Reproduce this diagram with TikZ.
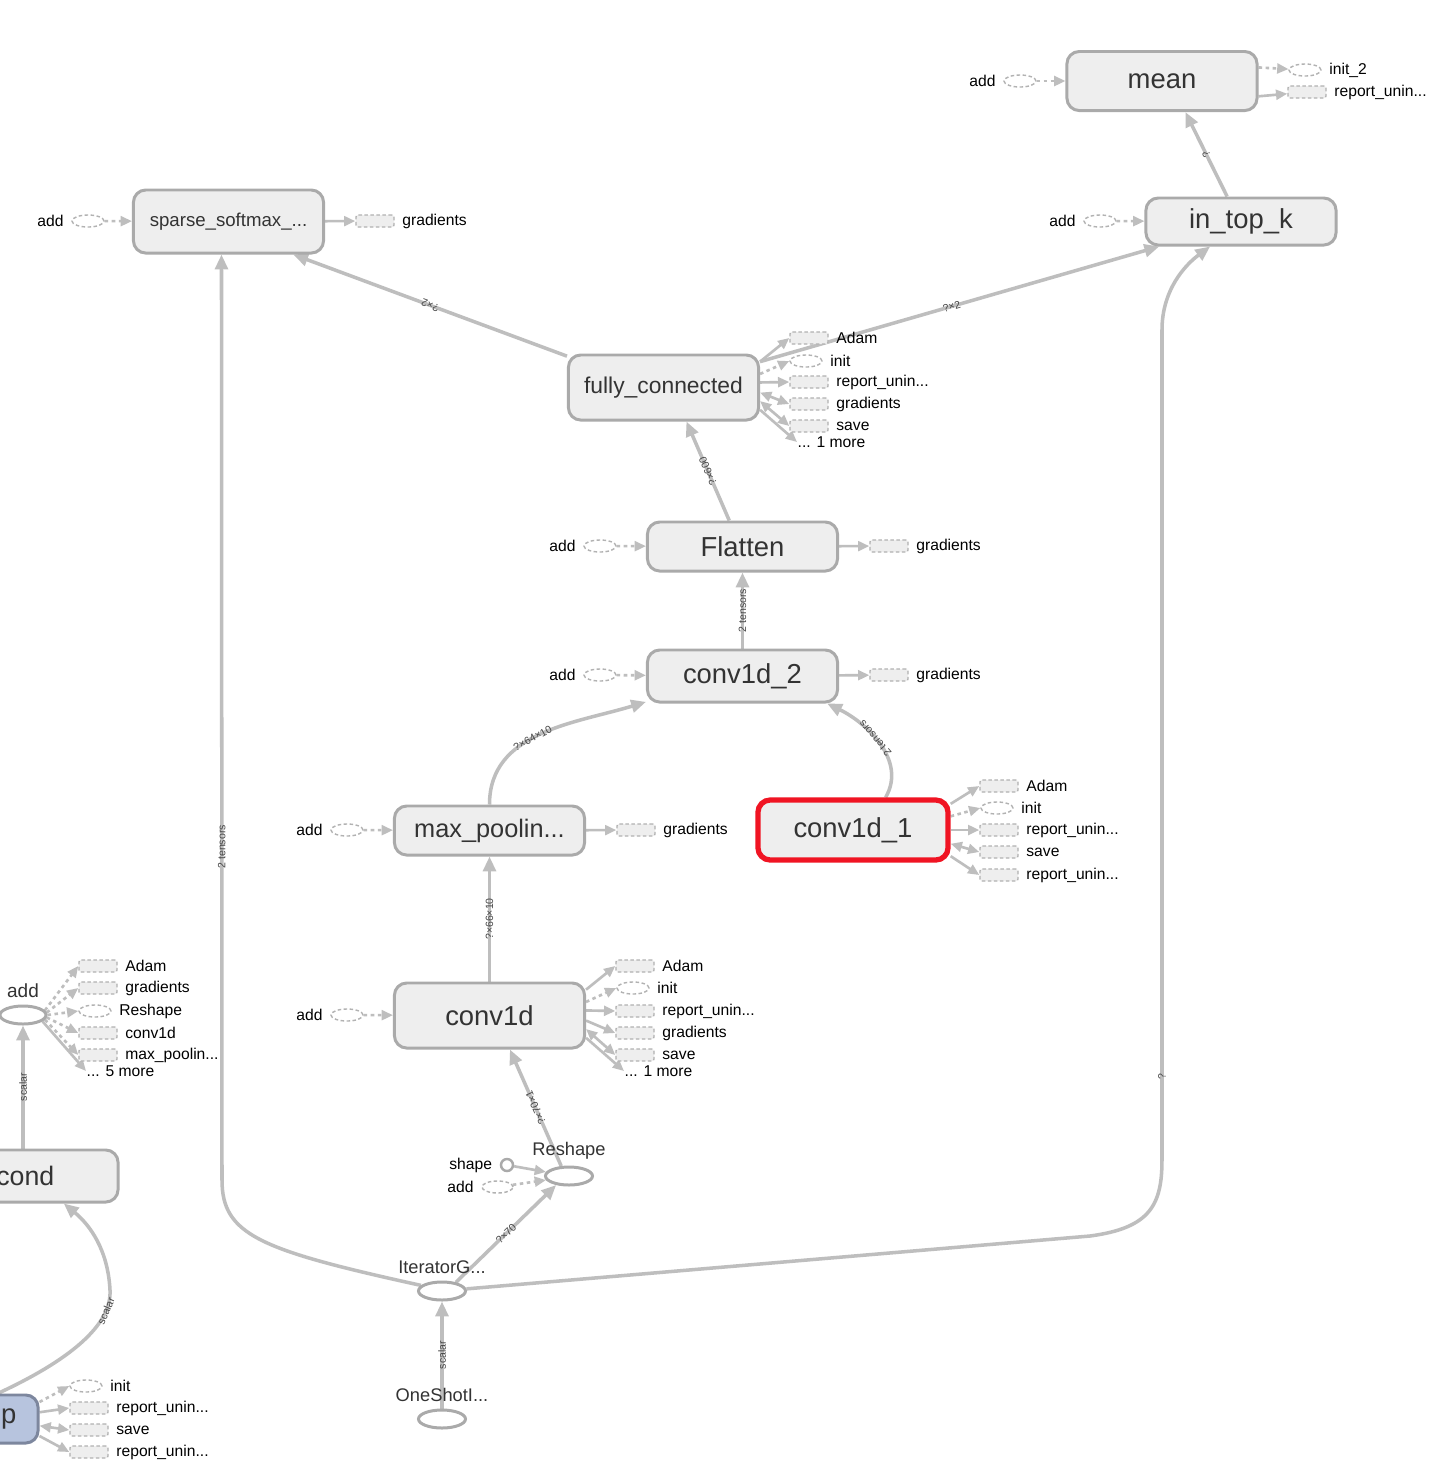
\documentclass[tikz,border=0pt]{standalone}
\usepackage{fontspec}
\setmainfont{Liberation Sans}
\usepackage{xcolor}
\definecolor{opfill}{RGB}{238,238,238}
\definecolor{opline}{RGB}{170,170,170}
\definecolor{optext}{RGB}{51,51,51}
\definecolor{edgegray}{RGB}{190,190,190}
\definecolor{auxline}{RGB}{178,178,178}
\definecolor{hilite}{RGB}{240,20,35}
\definecolor{seriesfill}{RGB}{183,196,222}
\definecolor{seriesline}{RGB}{125,135,158}
\usetikzlibrary{arrows.meta,positioning,shapes.geometric}
\pgfdeclarelayer{edges}
\pgfsetlayers{edges,main}

\begin{document}
\begin{tikzpicture}[
  x=0.01cm, y=-0.01cm,
  op/.style={draw=opline, fill=opfill, text=optext, line width=0.85pt,
             rounded corners=3.5pt, minimum width=1.9cm, inner sep=0pt,
             font=\fontsize{7.8}{9}\selectfont},
  opell/.style={ellipse, draw=opline, fill=white, line width=0.85pt,
                minimum width=0.47cm, minimum height=0.18cm, inner sep=0pt},
  oplbl/.style={font=\fontsize{5.2}{6}\selectfont, text=optext, inner sep=0pt},
  auxbox/.style={draw=auxline, dash pattern=on 1pt off 0.7pt, fill=opfill,
                 line width=0.4pt, rounded corners=0.6pt, inner sep=0pt,
                 minimum width=0.38cm, minimum height=0.12cm},
  auxell/.style={ellipse, draw=auxline, dash pattern=on 1pt off 0.7pt, fill=white,
                 line width=0.4pt, inner sep=0pt,
                 minimum width=0.32cm, minimum height=0.12cm},
  lbl/.style={font=\fontsize{4.45}{5}\selectfont, text=black, inner sep=0pt},
  edge/.style={draw=edgegray, line width=1pt,
               >={Triangle[length=4.2pt,width=3.6pt]}, ->},
  fan/.style={draw=edgegray, line width=0.75pt,
              >={Triangle[length=3.2pt,width=2.8pt]}, ->},
  both/.style={fan, <->},
  ctl/.style={fan, dash pattern=on 1pt off 1pt},
  elbl/.style={font=\fontsize{3}{3.4}\selectfont, text=black!72, sloped,
               allow upside down, inner sep=0.3pt}
]
\useasboundingbox (0,0) rectangle (1438,1468);
\clip (0,0) rectangle (1438,1468);

% main ops
\node[op, minimum height=0.59cm] (mean) at (1162,81) {mean};
\node[op, minimum height=0.47cm] (intopk) at (1241,221.5) {in\_top\_k};
\node[op, minimum height=0.63cm, font=\fontsize{5.3}{6}\selectfont] (sparse) at (228.5,221.5) {sparse\_softmax\_...};
\node[op, minimum height=0.65cm, font=\fontsize{6.5}{8}\selectfont] (fc) at (663.5,387.5) {fully\_connected};
\node[op, minimum height=0.49cm] (flat) at (742.5,546.5) {Flatten};
\node[op, minimum height=0.52cm] (convb) at (742.5,676) {conv1d\_2};
\node[op, minimum height=0.49cm, font=\fontsize{7.2}{8}\selectfont] (pool) at (489.5,830.5) {max\_poolin...};
\node[op, draw=hilite, line width=1.5pt, minimum height=0.6cm] (conva) at (853,830) {conv1d\_1};
\node[op, minimum height=0.65cm] (conv) at (489.5,1015.5) {conv1d};
\node[op, minimum height=0.52cm] (cond) at (23,1176) {};
\node[font=\fontsize{7.6}{9}\selectfont, text=optext, inner sep=0pt, anchor=east] (condtxt) at (55,1176) {cond};
\node[op, fill=seriesfill, draw=seriesline, minimum height=0.48cm] (pbox) at (-57,1419) {};
\node[font=\fontsize{7.8}{9}\selectfont, text=optext, inner sep=0pt, anchor=east] (ptxt) at (17,1419) {p};

% small ops
\node[opell, minimum width=0.46cm] (addop) at (23,1015) {};
\node[oplbl, font=\fontsize{5.4}{6}\selectfont, above=0.06cm of addop] (addtxt) {add};
\node[opell] (reshape) at (569,1176) {};
\node[oplbl, above=0.06cm of reshape] (reshapetxt) {Reshape};
\node[opell] (iter) at (442,1291) {};
\node[oplbl, above=0.06cm of iter] (itertxt) {IteratorG...};
\node[opell] (oneshot) at (442,1419) {};
\node[oplbl, above=0.06cm of oneshot] (oneshottxt) {OneShotI...};
\node[circle, draw=opline, fill=white, line width=0.7pt, minimum size=0.12cm, inner sep=0pt] (shape) at (507,1165) {};
\node[lbl, left=0.07cm of shape] (shapetxt) {shape};
\node[auxell, minimum width=0.31cm] (rsadd) at (497.5,1187) {};
\node[lbl, left=0.07cm of rsadd] (rsaddtxt) {add};

% side inputs and outputs
\node[auxell] (meanadd) at (1020,81) {};
\node[lbl, left=0.07cm of meanadd] (meanaddtxt) {add};
\node[auxell] (meaninit) at (1305,70) {};
\node[lbl, right=0.07cm of meaninit] (meaninittxt) {init\_2};
\node[auxbox] (meanrep) at (1307,92) {};
\node[lbl, right=0.07cm of meanrep] (meanreptxt) {report\_unin...};
\node[auxell] (topkadd) at (1100,221) {};
\node[lbl, left=0.07cm of topkadd] (topkaddtxt) {add};
\node[auxell] (sparseadd) at (88,221) {};
\node[lbl, left=0.07cm of sparseadd] (sparseaddtxt) {add};
\node[auxbox] (sparsegrad) at (375,221) {};
\node[lbl, right=0.07cm of sparsegrad] (sparsegradtxt) {gradients};
\node[auxell] (flatadd) at (600,546) {};
\node[lbl, left=0.07cm of flatadd] (flataddtxt) {add};
\node[auxbox] (flatgrad) at (889,546) {};
\node[lbl, right=0.07cm of flatgrad] (flatgradtxt) {gradients};
\node[auxell] (convbadd) at (600,675) {};
\node[lbl, left=0.07cm of convbadd] (convbaddtxt) {add};
\node[auxbox] (convbgrad) at (889,675) {};
\node[lbl, right=0.07cm of convbgrad] (convbgradtxt) {gradients};
\node[auxell] (pooladd) at (347,830) {};
\node[lbl, left=0.07cm of pooladd] (pooladdtxt) {add};
\node[auxbox] (poolgrad) at (636,830) {};
\node[lbl, right=0.07cm of poolgrad] (poolgradtxt) {gradients};
\node[auxell] (convadd) at (347,1015) {};
\node[lbl, left=0.07cm of convadd] (convaddtxt) {add};

% fully_connected fan
\node[auxbox] (fcadam) at (809,338) {};
\node[lbl, right=0.07cm of fcadam] (fcadamtxt) {Adam};
\node[auxell] (fcinit) at (806,361) {};
\node[lbl, right=0.07cm of fcinit] (fcinittxt) {init};
\node[auxbox] (fcrep) at (809,382) {};
\node[lbl, right=0.07cm of fcrep] (fcreptxt) {report\_unin...};
\node[auxbox] (fcgrad) at (809,404) {};
\node[lbl, right=0.07cm of fcgrad] (fcgradtxt) {gradients};
\node[auxbox] (fcsave) at (809,426) {};
\node[lbl, right=0.07cm of fcsave] (fcsavetxt) {save};
\node[lbl, anchor=west] (fcmore) at (797,442) {... 1 more};

% conv1d_1 fan
\node[auxbox] (convaadam) at (999,786) {};
\node[lbl, right=0.07cm of convaadam] (convaadamtxt) {Adam};
\node[auxell] (convainit) at (997,808) {};
\node[lbl, right=0.07cm of convainit] (convainittxt) {init};
\node[auxbox] (convarep) at (999,830) {};
\node[lbl, right=0.07cm of convarep] (convareptxt) {report\_unin...};
\node[auxbox] (convasave) at (999,852) {};
\node[lbl, right=0.07cm of convasave] (convasavetxt) {save};
\node[auxbox] (convarepb) at (999,875) {};
\node[lbl, right=0.07cm of convarepb] (convarepbtxt) {report\_unin...};

% conv1d fan
\node[auxbox] (convadam) at (635,966) {};
\node[lbl, right=0.07cm of convadam] (convadamtxt) {Adam};
\node[auxell] (convinit) at (633,988) {};
\node[lbl, right=0.07cm of convinit] (convinittxt) {init};
\node[auxbox] (convrep) at (635,1011) {};
\node[lbl, right=0.07cm of convrep] (convreptxt) {report\_unin...};
\node[auxbox] (convgrad) at (635,1033) {};
\node[lbl, right=0.07cm of convgrad] (convgradtxt) {gradients};
\node[auxbox] (convsave) at (635,1055) {};
\node[lbl, right=0.07cm of convsave] (convsavetxt) {save};
\node[lbl, anchor=west] (convmore) at (624,1071) {... 1 more};

% add fan
\node[auxbox] (addadam) at (98,966) {};
\node[lbl, right=0.07cm of addadam] (addadamtxt) {Adam};
\node[auxbox] (addgrad) at (98,988) {};
\node[lbl, right=0.07cm of addgrad] (addgradtxt) {gradients};
\node[auxell] (addreshape) at (95,1011) {};
\node[lbl, right=0.07cm of addreshape] (addreshapetxt) {Reshape};
\node[auxbox] (addconv) at (98,1033) {};
\node[lbl, right=0.07cm of addconv] (addconvtxt) {conv1d};
\node[auxbox] (addpool) at (98,1055) {};
\node[lbl, right=0.07cm of addpool] (addpooltxt) {max\_poolin...};
\node[lbl, anchor=west] (addmore) at (86,1071) {... 5 more};

% p fan
\node[auxell] (pinit) at (86,1386) {};
\node[lbl, right=0.07cm of pinit] (pinittxt) {init};
\node[auxbox] (prep) at (89,1408) {};
\node[lbl, right=0.07cm of prep] (preptxt) {report\_unin...};
\node[auxbox] (psave) at (89,1430) {};
\node[lbl, right=0.07cm of psave] (psavetxt) {save};
\node[auxbox] (prepb) at (89,1452) {};
\node[lbl, right=0.07cm of prepb] (prepbtxt) {report\_unin...};

\begin{pgfonlayer}{edges}
\fill[white] (0,0) rectangle (1438,1468);
% data edges
\draw[edge] (intopk.119) -- node[elbl] {?} (mean.-53);
\draw[edge] (fc.162) -- node[elbl] {?×2} (sparse.-27);
\draw[edge] (fc.15) -- node[elbl, pos=0.48] {?×2} (intopk.197);
\draw[edge] (flat.117) -- node[elbl] {?×600} (fc.-56);
\draw[edge] (convb) -- node[elbl] {2 tensors} (flat);
\draw[edge] (pool.north) to[out=90, in=197] node[elbl, pos=0.45] {?×64×10} (convb.195);
\draw[edge] (conva.45) to[out=60, in=-26] node[elbl, pos=0.55] {2 tensors} (convb.-18);
\draw[edge] (conv) -- node[elbl] {?×66×10} (pool);
\draw[edge] (reshape.128) -- node[elbl] {?×70×1} (conv.-59);
\draw[edge] (iter.32) -- node[elbl] {?×70} (reshape.215);
\draw[edge] (oneshot) -- node[elbl] {scalar} (iter);
\draw[fan] (shape) -- (reshape.170);
\draw[ctl] (rsadd) -- (reshape.190);
\draw[edge] (iter.165) .. controls (260,1250) and (222,1235) .. (222,1180)
  -- node[elbl, pos=0.36] {2 tensors} (sparse.-102);
\draw[edge] (iter.5) -- (1090,1236) .. controls (1150,1228) and (1162,1205) .. (1162,1160)
  -- node[elbl, pos=0.1] {?} (1162,330) .. controls (1162,290) and (1185,265) .. (intopk.-141);
\draw[edge] (cond) -- node[elbl] {scalar} (addop);
\draw[edge] (pbox.25) .. controls (70,1360) and (112,1325) .. (110,1290) node[elbl, pos=0.8] {scalar}
  .. controls (108,1250) and (90,1225) .. (cond.-34);

% side edges
\draw[ctl] (meanadd) -- (mean);
\draw[ctl] (mean.8) -- (meaninit);
\draw[fan] (mean.-9) -- (meanrep);
\draw[ctl] (topkadd) -- (intopk);
\draw[ctl] (sparseadd) -- (sparse);
\draw[fan] (sparse) -- (sparsegrad);
\draw[ctl] (flatadd) -- (flat);
\draw[fan] (flat) -- (flatgrad);
\draw[ctl] (convbadd) -- (convb);
\draw[fan] (convb) -- (convbgrad);
\draw[ctl] (pooladd) -- (pool);
\draw[fan] (pool) -- (poolgrad);
\draw[ctl] (convadd) -- (conv);

% fans
\draw[fan] (fc.15) -- (fcadam.west);
\draw[ctl] (fc.8) -- (fcinit.west);
\draw[fan] (fc.3) -- (fcrep.west);
\draw[both] (fc.-3) -- (fcgrad.west);
\draw[both] (fc.-8) -- (fcsave.west);
\draw[fan] (fc.-13) -- (fcmore.west);
\draw[fan] (conva.15) -- (convaadam.west);
\draw[ctl] (conva.8) -- (convainit.west);
\draw[fan] (conva.0) -- (convarep.west);
\draw[both] (conva.-8) -- (convasave.west);
\draw[fan] (conva.-15) -- (convarepb.west);
\draw[fan] (conv.15) -- (convadam.west);
\draw[ctl] (conv.8) -- (convinit.west);
\draw[fan] (conv.3) -- (convrep.west);
\draw[fan] (conv.-3) -- (convgrad.west);
\draw[both] (conv.-8) -- (convsave.west);
\draw[fan] (conv.-13) -- (convmore.west);
\draw[ctl] (addop.12) -- (addadam.west);
\draw[ctl] (addop.6) -- (addgrad.west);
\draw[ctl] (addop.0) -- (addreshape.west);
\draw[ctl] (addop.-6) -- (addconv.west);
\draw[ctl] (addop.-12) -- (addpool.west);
\draw[fan] (addop.-18) -- (addmore.west);
\draw[ctl] (pbox.10) -- (pinit.west);
\draw[fan] (pbox.4) -- (prep.west);
\draw[both] (pbox.-4) -- (psave.west);
\draw[fan] (pbox.-10) -- (prepb.west);
\end{pgfonlayer}
\end{tikzpicture}
\end{document}
